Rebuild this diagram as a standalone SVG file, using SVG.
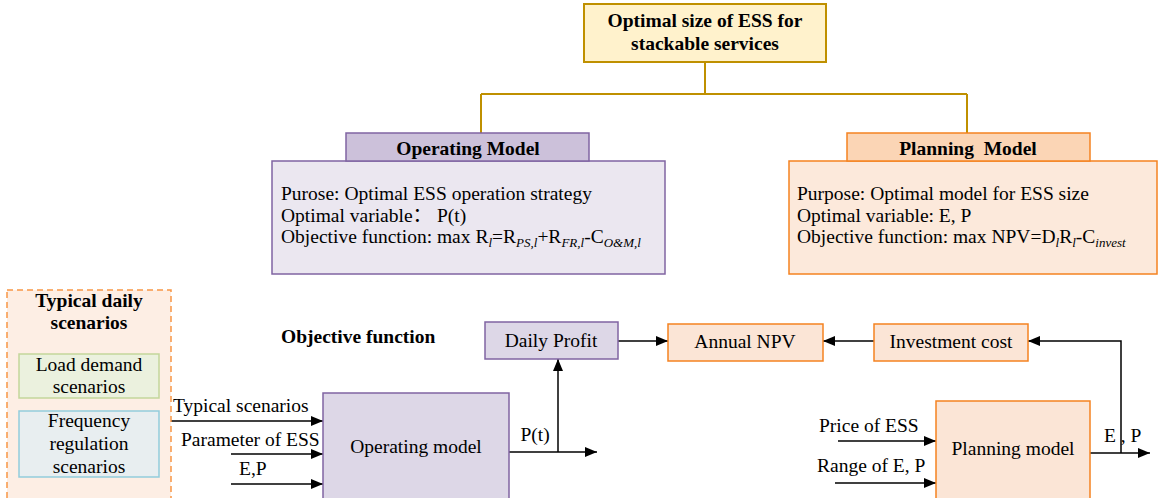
<svg xmlns="http://www.w3.org/2000/svg" width="1158" height="498" viewBox="0 0 1158 498">
<style>
text{font-family:"Liberation Serif","Noto Sans CJK SC",serif;font-size:19.5px;fill:#000;white-space:pre}
.b{font-weight:bold}
.m{text-anchor:middle}
.sub{font-size:13px;font-style:italic}
.gold{fill:none;stroke:#bf9000;stroke-width:2}
.ln{fill:none;stroke:#000;stroke-width:1.5}
.arr{marker-end:url(#ah)}
.pu{stroke:#8064a2;stroke-width:1.5}
.or{stroke:#f58220;stroke-width:1.5}
</style>
<defs>
<marker id="ah" viewBox="0 0 12 10" refX="12" refY="5" markerWidth="12" markerHeight="10" markerUnits="userSpaceOnUse" orient="auto"><path d="M0,0 L12,5 L0,10 z" fill="#000"/></marker>
</defs>
<rect width="1158" height="498" fill="#fff"/>

<g id="connectors">
<path class="gold" d="M705,62 V94 M481,94 H967 M481,94 V133 M967,94 V133"/>
<path class="ln arr" d="M171,421 H323"/>
<path class="ln arr" d="M231,454 H323"/>
<path class="ln arr" d="M231,484 H323"/>
<path class="ln arr" d="M509,452 H597"/>
<path class="ln arr" d="M558,452 V359"/>
<path class="ln arr" d="M618,341 H668"/>
<path class="ln arr" d="M874,341 H823"/>
<path class="ln arr" d="M838,441 H936"/>
<path class="ln arr" d="M835,483 H936"/>
<path class="ln arr" d="M1090,453 H1150"/>
<path class="ln arr" d="M1121,453 V341 H1028"/>
<text x="173" y="412">Typical scenarios</text>
<text x="181" y="446">Parameter of ESS</text>
<text x="239" y="475">E,P</text>
<text class="m" x="535" y="441">P(t)</text>
<text x="819" y="432">Price of ESS</text>
<text x="817" y="472">Range of E, P</text>
<text x="1104" y="442">E , P</text>
</g>

<g id="top">
<rect x="584" y="4" width="242" height="58" fill="#fff2cc" stroke="#bf9000" stroke-width="2"/>
<text class="b m" x="705" y="27">Optimal size of ESS for</text>
<text class="b m" x="705" y="50">stackable services</text>
</g>

<g id="operating-model-desc">
<rect x="272" y="161" width="393" height="113" fill="#ebe7f0" class="pu"/>
<rect x="346" y="133" width="243" height="28" fill="#ccc1da" class="pu"/>
<text class="b m" x="468" y="155">Operating Model</text>
<text x="281" y="200">Purose: Optimal ESS operation strategy</text>
<text x="281" y="222">Optimal variable：<tspan x="437">P(t)</tspan></text>
<text x="281" y="243">Objective function: max R<tspan class="sub" dy="4">l</tspan><tspan dy="-4">=R</tspan><tspan class="sub" dy="4">PS,l</tspan><tspan dy="-4">+R</tspan><tspan class="sub" dy="4">FR,l</tspan><tspan dy="-4">-C</tspan><tspan class="sub" dy="4">O&amp;M,l</tspan></text>
</g>

<g id="planning-model-desc">
<rect x="789" y="161" width="368" height="113" fill="#fce9db" class="or"/>
<rect x="847" y="133" width="243" height="28" fill="#fbd5b5" class="or"/>
<text class="b m" x="968" y="155">Planning  Model</text>
<text x="797" y="200">Purpose: Optimal model for ESS size</text>
<text x="797" y="222">Optimal variable: E, P</text>
<text x="797" y="243">Objective function: max NPV=D<tspan class="sub" dy="4">l</tspan><tspan dy="-4">R</tspan><tspan class="sub" dy="4">l</tspan><tspan dy="-4">-C</tspan><tspan class="sub" dy="4">invest</tspan></text>
</g>

<g id="scenarios">
<rect x="7" y="290" width="164" height="215" fill="#fdeee4" stroke="#f79646" stroke-width="1.5" stroke-dasharray="6,4"/>
<text class="b m" x="89" y="307">Typical daily</text>
<text class="b m" x="89" y="329">scenarios</text>
</g>

<g id="load-demand">
<rect x="19" y="354" width="140" height="44" fill="#ebf1de" stroke="#c3d69b" stroke-width="1.5"/>
<text class="m" x="89" y="371">Load demand</text>
<text class="m" x="89" y="393">scenarios</text>
</g>

<g id="frequency">
<rect x="19" y="411" width="140" height="66" fill="#e8eef0" stroke="#92cddc" stroke-width="1.5"/>
<text class="m" x="89" y="427">Frequency</text>
<text class="m" x="89" y="450">regulation</text>
<text class="m" x="89" y="473">scenarios</text>
</g>

<g id="objective-label">
<text class="b" x="281" y="343">Objective function</text>
</g>

<g id="operating-model">
<rect x="323" y="393" width="186" height="110" fill="#ddd7e7" class="pu"/>
<text class="m" x="416" y="453">Operating model</text>
</g>

<g id="daily-profit">
<rect x="485" y="322" width="133" height="37" fill="#ddd7e7" class="pu"/>
<text class="m" x="551" y="347">Daily Profit</text>
</g>

<g id="annual-npv">
<rect x="668" y="324" width="155" height="37" fill="#fbe5d6" class="or"/>
<text class="m" x="745" y="348">Annual NPV</text>
</g>

<g id="investment-cost">
<rect x="874" y="324" width="154" height="37" fill="#fbe5d6" class="or"/>
<text class="m" x="951" y="348">Investment cost</text>
</g>

<g id="planning-model">
<rect x="936" y="401" width="154" height="102" fill="#fbe5d6" class="or"/>
<text class="m" x="1013" y="455">Planning model</text>
</g>
</svg>
